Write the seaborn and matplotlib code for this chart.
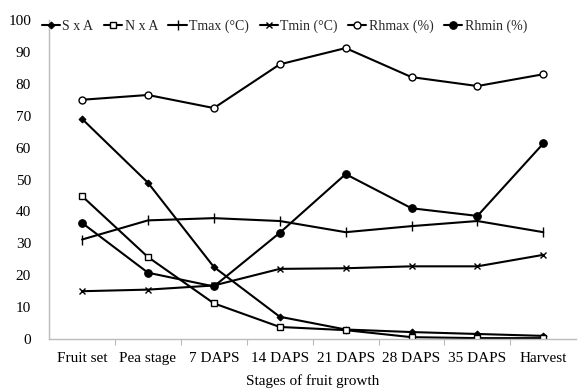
import matplotlib
matplotlib.use("Agg")
import matplotlib.pyplot as plt
import seaborn as sns
import pandas as pd
import numpy as np
from matplotlib.ticker import FixedLocator

stages = ["Fruit set", "Pea stage", "7 DAPS", "14 DAPS", "21 DAPS", "28 DAPS", "35 DAPS", "Harvest"]
sxa = [69, 49, 22.6, 7, 3, 2.2, 1.6, 1.0]
nxa = [44.8, 25.7, 11.2, 3.8, 2.8, 0.6, 0.3, 0.3]
tmax = [31.2, 37.2, 37.9, 37.0, 33.5, 35.4, 37.0, 33.5]
tmin = [15.0, 15.5, 16.8, 22.0, 22.2, 22.8, 22.8, 26.4]
rhmax = [75.0, 76.5, 72.4, 86.1, 91.2, 82.1, 79.3, 83.0]
rhmin = [36.4, 20.8, 16.5, 33.3, 51.7, 41.0, 38.6, 61.3]

series_names = ["S x A", "N x A", "Tmax (°C)", "Tmin (°C)", "Rhmax (%)", "Rhmin (%)"]
series_vals = [sxa, nxa, tmax, tmin, rhmax, rhmin]

sns.set_theme(style="white")
plt.rcParams['font.family'] = ['Liberation Serif', 'DejaVu Serif']

fig = plt.figure(figsize=(5.78, 3.92), dpi=100)
ax = fig.add_axes([0.085, 0.135, 0.912, 0.814])

styles = {
    "S x A": dict(marker="D", markersize=3.5, markerfacecolor="black", markeredgecolor="black"),
    "N x A": dict(marker="s", markersize=5, markerfacecolor="white", markeredgecolor="black", markeredgewidth=1.0),
    "Tmax (°C)": dict(marker="|", markersize=7, markeredgecolor="black", markeredgewidth=1.0),
    "Tmin (°C)": dict(marker="x", markersize=5, markeredgecolor="black", markeredgewidth=1.0),
    "Rhmax (%)": dict(marker="o", markersize=5, markerfacecolor="white", markeredgecolor="black", markeredgewidth=1.0),
    "Rhmin (%)": dict(marker="o", markersize=5.5, markerfacecolor="black", markeredgecolor="black"),
}

x_pos = np.arange(len(stages))
for name, vals in zip(series_names, series_vals):
    df = pd.DataFrame({"x": x_pos, "y": vals})
    sns.lineplot(data=df, x="x", y="y", ax=ax, color="black", linewidth=1.5,
                 label=name, **styles[name])

fs = 11
ax.set_xlim(-0.5, len(stages) - 0.5)
ax.set_ylim(0, 100)
ax.set_yticks(np.arange(0, 101, 10))
ax.set_xticks(x_pos)
ax.set_xticklabels(stages)
ax.xaxis.set_minor_locator(FixedLocator(np.arange(0.5, len(stages) - 0.5, 1.0)))
ax.tick_params(axis="x", which="major", length=0, pad=9, labelsize=fs, colors="black")
ax.tick_params(axis="x", which="minor", length=4, width=0.8, color="#bbbbbb", bottom=True, direction="out")
ax.tick_params(axis="y", length=0, pad=13, labelsize=fs, colors="black")

for s in ["top", "right"]:
    ax.spines[s].set_visible(False)
for s in ["left", "bottom"]:
    ax.spines[s].set_color("#bbbbbb")
    ax.spines[s].set_linewidth(1.0)

ax.set_xlabel("Stages of fruit growth", fontsize=fs, labelpad=7, color="black")
ax.set_ylabel("")

ax.legend(loc="center left", bbox_to_anchor=(0.072, 0.932), bbox_transform=fig.transFigure,
          ncol=6, frameon=False, fontsize=10, handlelength=1.3, handletextpad=0.2,
          columnspacing=0.75, borderaxespad=0, borderpad=0)

fig.savefig("out.png", dpi=100)
